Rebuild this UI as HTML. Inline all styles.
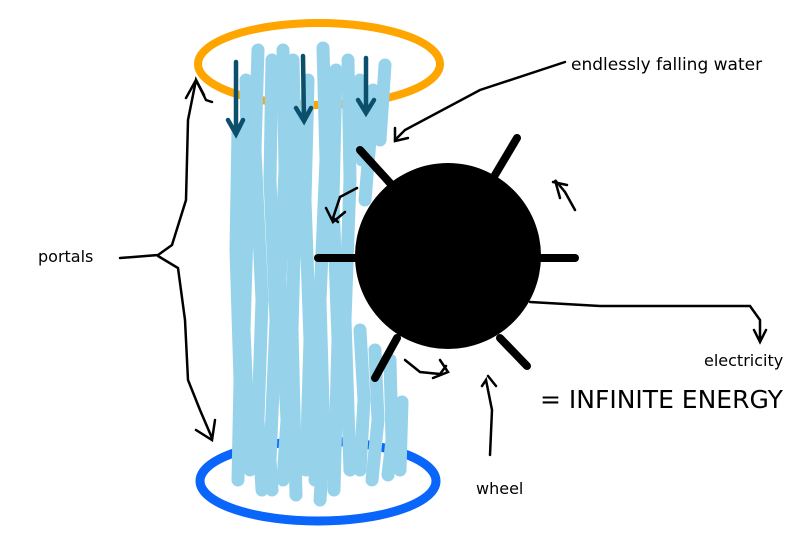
<!DOCTYPE html>
<html><head><style>
html,body{margin:0;padding:0;background:#fff;}
svg{display:block;}
text{font-family:"DejaVu Sans","Liberation Sans",sans-serif;fill:#000;}
</style></head><body>
<svg width="800" height="550" viewBox="0 0 800 550" xmlns="http://www.w3.org/2000/svg">
<rect width="800" height="550" fill="#fff"/>
<ellipse cx="319" cy="64" rx="121" ry="41" fill="none" stroke="#FFA500" stroke-width="8"/>
<ellipse cx="318" cy="481" rx="118" ry="40" fill="none" stroke="#0A66FA" stroke-width="9"/>
<g stroke="#96D3EA" stroke-width="13" stroke-linecap="round" fill="none">
<path d="M258 50 L255 150 L262 300 L258 420 L262 490"/>
<path d="M238 130 L236 250 L240 380 L238 480"/>
<path d="M246 80 L248 200 L244 330 L250 470"/>
<path d="M272 60 L270 180 L276 320 L270 460 L272 490"/>
<path d="M283 50 L285 170 L280 280 L287 420 L283 480"/>
<path d="M293 60 L296 180 L292 330 L296 495"/>
<path d="M308 80 L305 200 L310 340 L306 470"/>
<path d="M323 48 L326 160 L320 300 L324 440 L320 500"/>
<path d="M336 70 L333 200 L338 340 L334 490"/>
<path d="M348 60 L350 180 L345 320 L350 470"/>
<path d="M360 80 L362 160"/>
<path d="M373 90 L370 140 L365 200"/>
<path d="M385 65 L380 140"/>
<path d="M360 330 L364 400 L360 470"/>
<path d="M375 350 L378 420 L372 480"/>
<path d="M390 360 L392 440 L388 475"/>
<path d="M402 402 L400 470"/>
<path d="M315 300 L318 420 L315 480"/>
</g>
<g stroke="#0B4F6C" stroke-width="4.5" fill="none" stroke-linecap="round">
<path d="M236 62 L236 133 M228 120 L236 134 L243 120"/>
<path d="M303 56 L304 120 M296 108 L304 121 L311 108"/>
<path d="M366 58 L366 112 M358 100 L366 113 L374 100"/>
</g>
<g stroke="#000" stroke-width="8" stroke-linecap="round">
<line x1="318" y1="258" x2="360" y2="258"/>
<line x1="540" y1="258" x2="575" y2="258"/>
<line x1="360" y1="150" x2="390" y2="183"/>
<line x1="517" y1="138" x2="495" y2="175"/>
<line x1="375" y1="378" x2="397" y2="338"/>
<line x1="527" y1="366" x2="500" y2="338"/>
</g>
<circle cx="448" cy="256" r="93" fill="#000"/>
<g stroke="#000" stroke-width="2.5" fill="none" stroke-linecap="round">
<path d="M565 62 L480 90 L405 130 L395 140"/>
<path d="M395 128 L395 141 L408 138"/>
<path d="M357 188 L340 197 L333 218 L338 222 M326 208 L333 222 L345 212"/>
<path d="M575 210 L565 192 L555 180 L560 198 M553 182 L567 185"/>
<path d="M405 360 L420 372 L440 374 L446 366 M433 378 L448 372 L440 360"/>
<path d="M490 455 L492 410 L486 380 L482 386 M488 376 L496 386"/>
<path d="M530 302 L600 306 L750 306 L760 320 L760 340 M754 330 L760 342 L766 330"/>
<path d="M120 258 L158 255 L172 245 L186 200 L188 120 L196 80 L206 100 L212 102"/>
<path d="M158 256 L178 268 L185 320 L188 380 L200 410 L212 438 M196 430 L212 440 L215 420"/>
<path d="M186 98 L196 80 L204 95"/>
</g>
<text x="571" y="70" font-size="17">endlessly falling water</text>
<text x="38" y="262" font-size="16">portals</text>
<text x="704" y="366" font-size="16">electricity</text>
<text x="476" y="494" font-size="16">wheel</text>
<text x="540" y="408" font-size="25">= INFINITE ENERGY</text>
</svg>
</body></html>
